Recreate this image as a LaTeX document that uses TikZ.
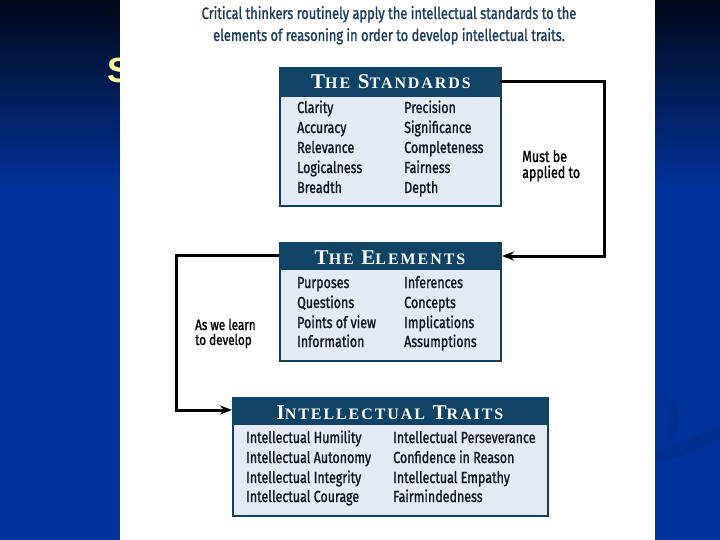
\documentclass[tikz,border=0pt]{standalone}
\usepackage{fontspec}
\setmainfont{Fira Sans}[FakeStretch=0.78,FakeBold=1.2]
\newfontfamily\headfont{Liberation Serif}[LetterSpace=12]
\newfontfamily\sfont{Liberation Sans}
\usetikzlibrary{arrows.meta}
\definecolor{bgtop}{HTML}{000818}
\definecolor{bgblue}{HTML}{00339A}
\definecolor{bgdark}{HTML}{00287A}
\definecolor{syellow}{HTML}{FFFF99}
\definecolor{hdrc}{HTML}{0F4466}
\definecolor{bodyc}{HTML}{E4EBF5}
\definecolor{bordc}{HTML}{123F5E}
\definecolor{titlec}{HTML}{1B3B5F}
\definecolor{textc}{HTML}{111820}
\newcommand\hsc[2]{{\fontsize{21}{21}\selectfont #1}{\fontsize{16}{16}\selectfont #2}}
\tikzset{
  box/.style={draw=bordc, line width=2pt, fill=bodyc, anchor=north west, inner sep=0pt},
  hdr/.style={fill=hdrc, anchor=north west, inner sep=0pt},
  htext/.style={anchor=base, inner sep=0pt, text=white, font=\headfont\bfseries},
  item/.style={anchor=base west, inner sep=0pt, text=textc,
     font=\fontsize{16}{16}\selectfont},
  lbl/.style={anchor=base west, inner sep=0pt, text=black,
     font=\fontsize{16}{16}\selectfont},
  conn/.style={line width=3pt, draw=black},
  tip/.style={-{Stealth[length=12pt,width=9pt]}}
}
\begin{document}
\begin{tikzpicture}[x=1pt,y=-1pt]
\useasboundingbox (0,0) rectangle (720,540);
% background
\shade[top color=bgtop, bottom color=bgblue] (0,0) rectangle (720,190);
\fill[bgblue] (0,189.5) rectangle (720,540);
\draw[bgdark, line width=14pt, opacity=0.3] (655,458) .. controls (680,450) and (700,440) .. (722,432);
\draw[bgdark, line width=10pt, opacity=0.25] (655,395) .. controls (675,400) and (680,420) .. (668,440);
% yellow S (partly hidden)
\node[anchor=base west, inner sep=0pt, text=syellow, font=\sfont\bfseries\fontsize{35}{35}\selectfont] (s) at (107,83) {S};
% white panel
\fill[white] (120,0) rectangle (655,540);
% title
\node[anchor=base, inner sep=0pt, text=titlec, font=\fontsize{16.5}{16.5}\selectfont] (t1) at (389,19) {Critical thinkers routinely apply the intellectual standards to the};
\node[anchor=base, inner sep=0pt, text=titlec, font=\fontsize{16.5}{16.5}\selectfont] (t2) at (389,41) {elements of reasoning in order to develop intellectual traits.};
% standards
\node[box, minimum width=221pt, minimum height=138pt] (std) at (279,67) {};
\node[hdr, minimum width=221pt, minimum height=30pt] (stdh) at (279,67) {};
\node[htext] (stdt) at (391,89) {\hsc{T}{HE}\hspace{4pt} \hsc{S}{TANDARDS}};
\node[item] (s1) at (297,113) {Clarity};
\node[item] (s2) at (297,133) {Accuracy};
\node[item] (s3) at (297,153) {Relevance};
\node[item] (s4) at (297,173) {Logicalness};
\node[item] (s5) at (297,193) {Breadth};
\node[item] (s6) at (404,113) {Precision};
\node[item] (s7) at (404,133) {Significance};
\node[item] (s8) at (404,153) {Completeness};
\node[item] (s9) at (404,173) {Fairness};
\node[item] (s10) at (404,193) {Depth};
% elements
\node[box, minimum width=221pt, minimum height=118pt] (el) at (279,242) {};
\node[hdr, minimum width=221pt, minimum height=28pt] (elh) at (279,242) {};
\node[htext] (elt) at (390,264) {\hsc{T}{HE}\hspace{4pt} \hsc{E}{LEMENTS}};
\node[item] (e1) at (297,288) {Purposes};
\node[item] (e2) at (297,308) {Questions};
\node[item] (e3) at (297,328) {Points of view};
\node[item] (e4) at (297,347) {Information};
\node[item] (e5) at (404,288) {Inferences};
\node[item] (e6) at (404,308) {Concepts};
\node[item] (e7) at (404,328) {Implications};
\node[item] (e8) at (404,347) {Assumptions};
% traits
\node[box, minimum width=315pt, minimum height=118pt] (tr) at (232,397) {};
\node[hdr, minimum width=315pt, minimum height=28pt] (trh) at (232,397) {};
\node[htext] (trt) at (390,419) {\hsc{I}{NTELLECTUAL}\hspace{4pt} \hsc{T}{RAITS}};
\node[item] (r1) at (246,443) {Intellectual Humility};
\node[item] (r2) at (246,463) {Intellectual Autonomy};
\node[item] (r3) at (246,483) {Intellectual Integrity};
\node[item] (r4) at (246,502) {Intellectual Courage};
\node[item] (r5) at (393,443) {Intellectual Perseverance};
\node[item] (r6) at (393,463) {Confidence in Reason};
\node[item] (r7) at (393,483) {Intellectual Empathy};
\node[item] (r8) at (393,502) {Fairmindedness};
% connectors
\coordinate (c1) at (604,82);
\coordinate (c2) at (604,256);
\draw[conn, tip] (stdh.east |- c1) -- (c1) -- (c2) -- (el.east |- c2);
\coordinate (d1) at (176,255);
\coordinate (d2) at (176,410);
\draw[conn, tip] (el.west |- d1) -- (d1) -- (d2) -- (tr.west |- d2);
% labels
\node[lbl] (must) at (522,162) {Must be};
\node[lbl] (appl) at (522,178) {applied to};
\node[lbl, font=\fontsize{15}{15}\selectfont] (asw) at (195,330) {As we learn};
\node[lbl, font=\fontsize{15}{15}\selectfont] (todev) at (195,345) {to develop};
\end{tikzpicture}
\end{document}
